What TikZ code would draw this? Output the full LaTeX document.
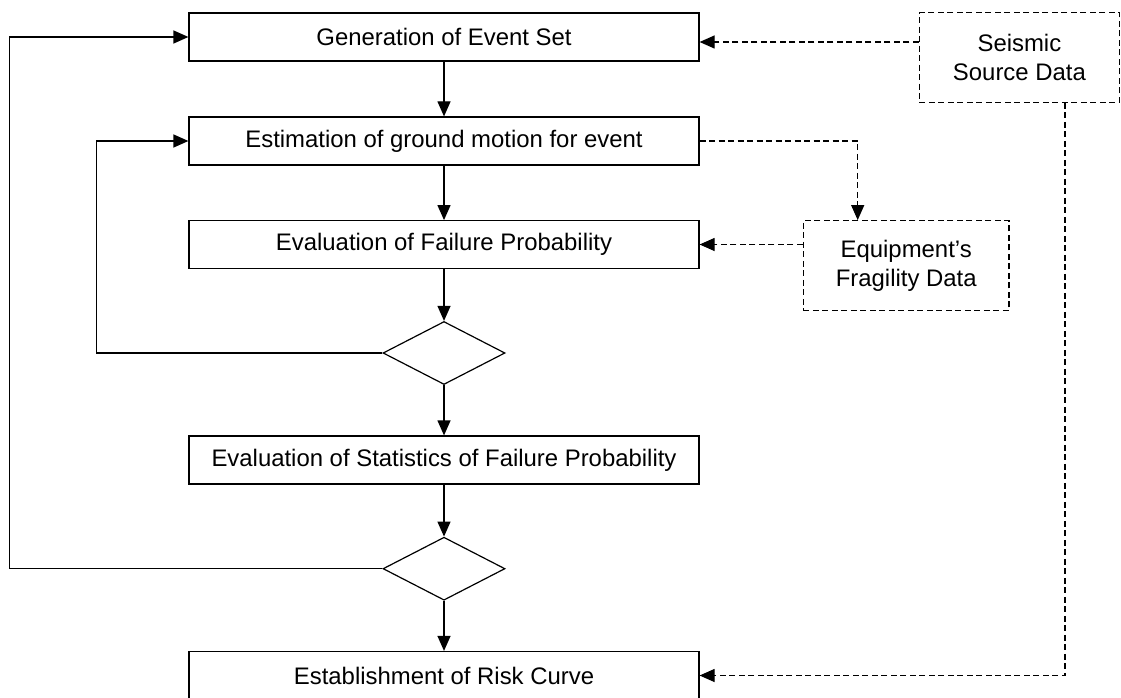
\documentclass[tikz,border=0pt]{standalone}
\usepackage{fontspec}
\setmainfont{Liberation Sans}
\usetikzlibrary{shapes.geometric,arrows.meta}
\begin{document}
\begin{tikzpicture}[x=1pt,y=-1pt,
  every node/.style={font=\fontsize{23.9}{28.7}\selectfont},
  procbox/.style={draw,line width=1.2pt,minimum width=510pt,minimum height=48pt,inner sep=0pt},
  databox/.style={draw,line width=1.2pt,dash pattern=on 6pt off 3.5pt,inner sep=0pt,align=center},
  decision/.style={draw,diamond,line width=1.2pt,minimum width=122pt,minimum height=63pt,inner sep=0pt},
  arr/.style={line width=1.2pt,-{Triangle[length=15pt,width=13pt]}},
  darr/.style={line width=1.2pt,dash pattern=on 6pt off 3.5pt,-{Triangle[length=15pt,width=13pt]}}]
\useasboundingbox (0,0) rectangle (1121,698);
\node[procbox] (gen) at (444,37) {Generation of Event Set};
\node[procbox] (est) at (444,141) {Estimation of ground motion for event};
\node[procbox,minimum height=47.6pt] (eval) at (444,244.5) {Evaluation of Failure Probability};
\node[decision] (d1) at (444,353) {};
\node[procbox] (stats) at (444,460) {Evaluation of Statistics of Failure Probability};
\node[decision] (d2) at (444,568.7) {};
\node[procbox] (risk) at (444,675.5) {Establishment of Risk Curve};
\node[databox,minimum width=200pt,minimum height=89.6pt] (seis) at (1019.4,57.5) {Seismic\\Source Data};
\node[databox,minimum width=205.7pt,minimum height=90pt] (equip) at (906.2,265.7) {Equipment’s\\Fragility Data};
\coordinate (l1) at (9.5,0);
\coordinate (l2) at (96.7,0);
\coordinate (ya) at (0,42);
\coordinate (c1) at (857.7,0);
\coordinate (c2) at (1065,0);
\draw[arr] (gen) -- (est);
\draw[arr] (est) -- (eval);
\draw[arr] (eval) -- (d1);
\draw[arr] (d1) -- (stats);
\draw[arr] (stats) -- (d2);
\draw[arr] (d2) -- (risk);
\draw[arr] (d1.west) -- (d1.west -| l2) |- (est.west);
\draw[arr] (d2.west) -- (d2.west -| l1) |- (gen.west);
\draw[darr] (seis.west |- ya) -- (gen.east |- ya);
\draw[darr] (est.east) -| (c1 |- equip.north);
\draw[darr] (equip.west |- eval.east) -- (eval.east);
\draw[darr] (c2 |- seis.south) |- (risk.east);
\end{tikzpicture}
\end{document}
